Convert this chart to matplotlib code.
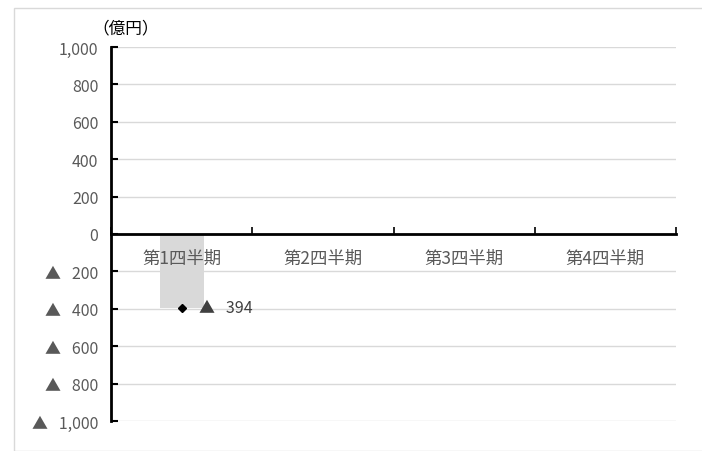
import matplotlib
matplotlib.use('Agg')
import matplotlib.pyplot as plt
import matplotlib.patches as patches
import numpy as np

plt.rcParams['font.family'] = ['Noto Sans CJK JP', 'DejaVu Sans']

categories = ['第1四半期', '第2四半期', '第3四半期', '第4四半期']
bar_values = [-394, np.nan, np.nan, np.nan]
point_values = [-394, np.nan, np.nan, np.nan]
y_ticks = [-1000, -800, -600, -400, -200, 0, 200, 400, 600, 800, 1000]
unit_label = '（億円）'


def fmt(v):
    if v < 0:
        return '▲   {:,}'.format(-v)
    return '{:,}'.format(v)


fig = plt.figure(figsize=(7.02, 4.52), dpi=100)
fig.patches.append(patches.Rectangle((14 / 702, 0), 1, 1 - 9 / 452, transform=fig.transFigure,
                                     fill=False, edgecolor='#d9d9d9', linewidth=1))
ax = fig.add_axes([111 / 702, 1 - 422 / 452, 565 / 702, 374 / 452])

x = np.arange(len(categories))
ax.bar(x, bar_values, width=0.31, color='#d9d9d9', zorder=2)
ax.plot(x, point_values, linestyle='none', marker='D', markersize=4, color='black', zorder=3)
for xi, v in zip(x, point_values):
    if not np.isnan(v):
        ax.text(xi + 0.12, v, fmt(int(v)), ha='left', va='center', fontsize=11.5,
                color='#404040', zorder=4)

# category names drawn on top of the bars
for xi, name in zip(x, categories):
    ax.text(xi, -125, name, ha='center', va='center', fontsize=12.5,
            color='#595959', zorder=5)

ax.set_xlim(-0.5, 3.5)
ax.set_ylim(-1000, 1000)
ax.set_yticks(y_ticks)
ax.set_yticklabels([fmt(v) for v in y_ticks])
ax.tick_params(axis='y', direction='in', length=5, width=1.5, colors='black',
               labelcolor='#595959', labelsize=11.5, pad=9)

ax.set_xticks(np.arange(-0.5, 4.0, 1.0))
ax.set_xticklabels([])
ax.tick_params(axis='x', direction='in', length=5, width=1.2, colors='black')

ax.grid(axis='y', color='#d9d9d9', linewidth=1, zorder=0)
ax.set_axisbelow(True)
for s in ['top', 'right']:
    ax.spines[s].set_visible(False)
ax.spines['bottom'].set_position(('data', 0))
ax.spines['bottom'].set_linewidth(2)
ax.spines['bottom'].set_zorder(4)
ax.spines['left'].set_linewidth(2)
ax.spines['left'].set_zorder(4)

fig.text(126 / 702, 1 - 29 / 452, unit_label, ha='center', va='center', fontsize=12, color='black')

fig.savefig('out.png', dpi=100)
